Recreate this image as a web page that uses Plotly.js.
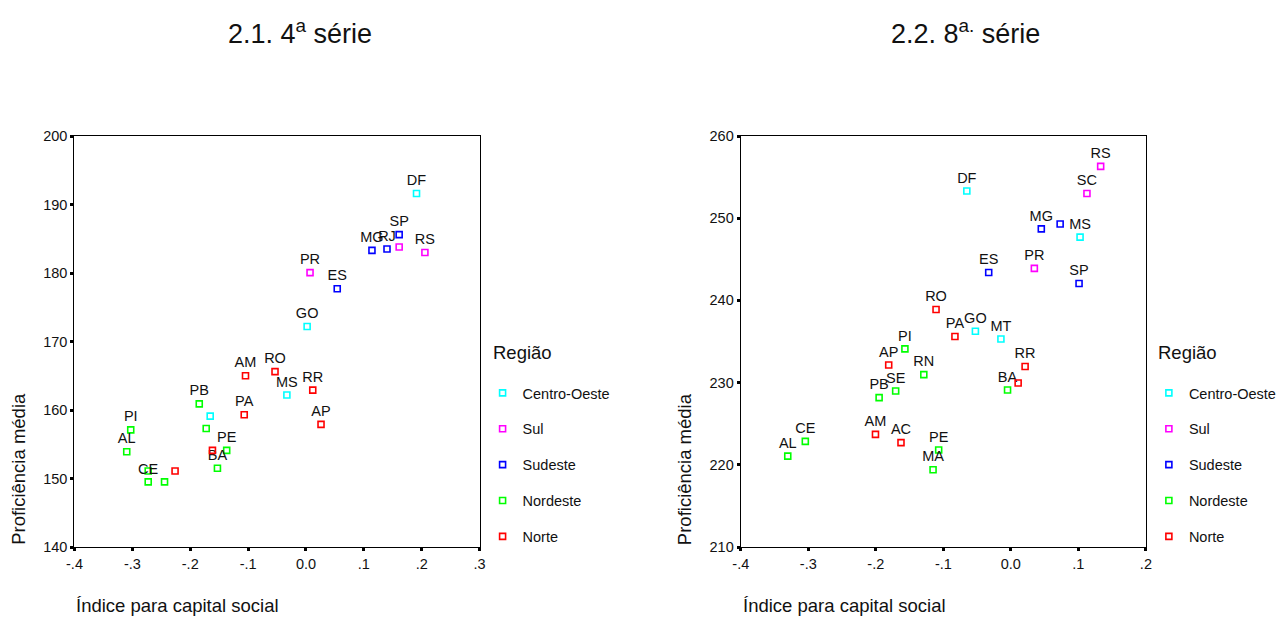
<!DOCTYPE html>
<html>
<head>
<meta charset="utf-8">
<script src="https://cdn.plot.ly/plotly-3.0.1.min.js"></script>
<style>html,body{margin:0;padding:0;background:#fff;}#chart{width:1282px;height:618px;}</style>
</head>
<body>
<div id="chart"></div>
<script>
// Regions (legend order) and colours
const regions = ["Centro-Oeste", "Sul", "Sudeste", "Nordeste", "Norte"];
const regionColors = ["#00ffff", "#ff00ff", "#0000ff", "#00ff00", "#ff0000"];
const legendTitle = "Região";

// 2.1. 4ª série — índice para capital social (x) vs proficiência média (y)
const s4_labels = {
  "Centro-Oeste": ["DF", "GO", "MS", ""],
  "Sul": ["PR", "RS", ""],
  "Sudeste": ["SP", "RJ", "MG", "ES"],
  "Nordeste": ["PB", "", "PE", "BA", "PI", "AL", "CE", "", ""],
  "Norte": ["AM", "RO", "RR", "AP", "PA", "", ""]
};
const s4_x = {
  "Centro-Oeste": [0.191, 0.002, -0.033, -0.1655],
  "Sul": [0.007, 0.2055, 0.161],
  "Sudeste": [0.161, 0.140, 0.114, 0.054],
  "Nordeste": [-0.1844, -0.1724, -0.137, -0.153, -0.3028, -0.3097, -0.2726, -0.2726, -0.2444],
  "Norte": [-0.1045, -0.0535, 0.0117, 0.026, -0.1067, -0.1616, -0.2262]
};
const s4_y = {
  "Centro-Oeste": [191.6, 172.2, 162.2, 159.1],
  "Sul": [180.05, 183.0, 183.8],
  "Sudeste": [185.6, 183.5, 183.3, 177.7],
  "Nordeste": [160.9, 157.3, 154.1, 151.5, 157.1, 153.9, 149.5, 151.1, 149.5],
  "Norte": [165.0, 165.6, 162.9, 157.9, 159.3, 154.1, 151.1]
};

// 2.2. 8ª série
const s8_labels = {
  "Centro-Oeste": ["DF", "MS", "GO", "MT"],
  "Sul": ["RS", "SC", "PR"],
  "Sudeste": ["MG", "", "ES", "SP"],
  "Nordeste": ["PI", "RN", "BA", "SE", "PB", "PE", "MA", "CE", "AL"],
  "Norte": ["RO", "PA", "AP", "RR", "", "AM", "AC"]
};
const s8_x = {
  "Centro-Oeste": [-0.0652, 0.1025, -0.0525, -0.0147],
  "Sul": [0.133, 0.1127, 0.0348],
  "Sudeste": [0.0451, 0.073, -0.0328, 0.101],
  "Nordeste": [-0.1569, -0.1289, -0.0049, -0.1706, -0.1951, -0.1069, -0.1152, -0.3044, -0.3304],
  "Norte": [-0.1108, -0.0828, -0.1809, 0.0211, 0.0108, -0.2005, -0.1627]
};
const s8_y = {
  "Centro-Oeste": [253.3, 247.7, 236.25, 235.3],
  "Sul": [256.3, 253.0, 243.9],
  "Sudeste": [248.7, 249.3, 243.4, 242.05],
  "Nordeste": [234.1, 230.97, 229.1, 228.98, 228.17, 221.8, 219.4, 222.85, 221.06],
  "Norte": [238.9, 235.6, 232.15, 231.95, 229.96, 223.7, 222.7]
};

// Tick labels
const x1_tickvals = [-0.4, -0.3, -0.2, -0.1, 0, 0.1, 0.2, 0.3];
const x1_ticktext = ["-.4", "-.3", "-.2", "-.1", "0.0", ".1", ".2", ".3"];
const y1_tickvals = [140, 150, 160, 170, 180, 190, 200];
const x2_tickvals = [-0.4, -0.3, -0.2, -0.1, 0, 0.1, 0.2];
const x2_ticktext = ["-.4", "-.3", "-.2", "-.1", "0.0", ".1", ".2"];
const y2_tickvals = [210, 220, 230, 240, 250, 260];

const FONT = "Liberation Sans, Arial, sans-serif";
const W = 1282, H = 618;
const px = v => v / W;
const py = v => 1 - v / H;

const traces = [];
function addSeries(labels, xs, ys, xa, ya, lg, prefix) {
  regions.forEach((r, i) => {
    traces.push({
      type: "scatter", mode: "markers+text", name: r,
      x: xs[r], y: ys[r], text: labels[r].map(t => t === "" ? " " : t),
      textposition: "top center",
      textfont: {family: FONT, size: 14.5, color: "#111"},
      marker: {symbol: "square-open", size: 6, color: regionColors[i], line: {width: 1.6, color: regionColors[i]}},
      xaxis: xa, yaxis: ya, legend: lg, legendgroup: prefix + i,
      cliponaxis: false, hoverinfo: "text+x+y"
    });
  });
}
addSeries(s4_labels, s4_x, s4_y, "x", "y", "legend", "a");
addSeries(s8_labels, s8_x, s8_y, "x2", "y2", "legend2", "b");

const axisCommon = {
  showgrid: false, zeroline: false, showline: true, linecolor: "#000", linewidth: 1.3,
  mirror: true, ticks: "outside", ticklen: 3, tickwidth: 3, tickcolor: "#000",
  tickfont: {family: FONT, size: 14.5, color: "#111"}
};

const legendCommon = {
  font: {family: FONT, size: 14.5, color: "#111"},
  traceorder: "grouped", tracegroupgap: 14,
  bgcolor: "rgba(0,0,0,0)", borderwidth: 0,
  xanchor: "left", yanchor: "top", itemclick: false
};

const layout = {
  width: W, height: H,
  margin: {l: 0, r: 0, t: 0, b: 0},
  paper_bgcolor: "#fff", plot_bgcolor: "#fff",
  showlegend: true,
  font: {family: FONT, color: "#111"},
  xaxis: Object.assign({}, axisCommon, {domain: [px(75), px(483)], range: [-0.4, 0.3], tickvals: x1_tickvals, ticktext: x1_ticktext, anchor: "y"}),
  yaxis: Object.assign({}, axisCommon, {domain: [py(547), py(136)], range: [140, 200], tickvals: y1_tickvals, anchor: "x"}),
  xaxis2: Object.assign({}, axisCommon, {domain: [px(746), px(1154)], range: [-0.4, 0.2], tickvals: x2_tickvals, ticktext: x2_ticktext, anchor: "y2"}),
  yaxis2: Object.assign({}, axisCommon, {domain: [py(547), py(136)], range: [210, 260], tickvals: y2_tickvals, anchor: "x2"}),
  legend: Object.assign({}, legendCommon, {x: px(486), y: py(377)}),
  legend2: Object.assign({}, legendCommon, {x: px(1157), y: py(377)}),
  annotations: [
    {text: "2.1. 4<sup>a</sup> série", xref: "paper", yref: "paper", x: px(302), y: py(32), xanchor: "center", yanchor: "middle", showarrow: false, font: {family: FONT, size: 27, color: "#111"}},
    {text: "2.2. 8<sup>a.</sup> série", xref: "paper", yref: "paper", x: px(972), y: py(32), xanchor: "center", yanchor: "middle", showarrow: false, font: {family: FONT, size: 27, color: "#111"}},
    {text: legendTitle, xref: "paper", yref: "paper", x: px(494), y: py(352), xanchor: "left", yanchor: "middle", showarrow: false, font: {family: FONT, size: 18.5, color: "#111"}},
    {text: legendTitle, xref: "paper", yref: "paper", x: px(1164), y: py(352), xanchor: "left", yanchor: "middle", showarrow: false, font: {family: FONT, size: 18.5, color: "#111"}},
    {text: "Proficiência média", xref: "paper", yref: "paper", x: px(18), y: py(547), textangle: -90, xanchor: "center", yanchor: "bottom", showarrow: false, font: {family: FONT, size: 18.5, color: "#111"}},
    {text: "Proficiência média", xref: "paper", yref: "paper", x: px(689), y: py(547), textangle: -90, xanchor: "center", yanchor: "bottom", showarrow: false, font: {family: FONT, size: 18.5, color: "#111"}},
    {text: "Índice para capital social", xref: "paper", yref: "paper", x: px(75), y: py(605), xanchor: "left", yanchor: "middle", showarrow: false, font: {family: FONT, size: 18.5, color: "#111"}},
    {text: "Índice para capital social", xref: "paper", yref: "paper", x: px(746), y: py(605), xanchor: "left", yanchor: "middle", showarrow: false, font: {family: FONT, size: 18.5, color: "#111"}}
  ]
};

Plotly.newPlot("chart", traces, layout, {displayModeBar: false});
</script>
</body>
</html>
